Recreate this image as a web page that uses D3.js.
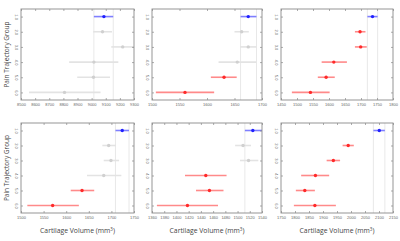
<!DOCTYPE html>
<html>
<head>
<meta charset="utf-8">
<script src="https://cdn.jsdelivr.net/npm/d3@7"></script>
<style>
body { margin: 0; background: #fff; }
svg { font-family: "Open Sans", "DejaVu Sans", sans-serif; }
</style>
</head>
<body>
<svg></svg>
<script>
const W = 400, H = 241;

// groups on the y axis
const groups = [1, 2, 3, 4, 5, 6];

// per-panel x domains and ticks
const domains = [[8500, 9300], [1500, 1700], [1450, 1800], [1500, 1750], [1360, 1540], [1750, 2150]];
const tickVals = [
  [8500, 8600, 8700, 8800, 8900, 9000, 9100, 9200, 9300],
  [1500, 1550, 1600, 1650, 1700],
  [1450, 1500, 1550, 1600, 1650, 1700, 1750, 1800],
  [1500, 1550, 1600, 1650, 1700, 1750],
  [1360, 1380, 1400, 1420, 1440, 1460, 1480, 1500, 1520, 1540],
  [1750, 1800, 1850, 1900, 1950, 2000, 2050, 2100, 2150]
];

// estimates (mean, lower CI, upper CI) for groups 1..6
const means = [
  [9087, 9077, 9220, 9016, 9013, 8808],
  [1675, 1663, 1675, 1655, 1631, 1560],
  [1736, 1697, 1699, 1615, 1591, 1542],
  [1724, 1694, 1699, 1683, 1635, 1570],
  [1525, 1509, 1518, 1448, 1454, 1418],
  [2101, 1990, 1937, 1873, 1835, 1871]
];
const lower = [
  [9016, 9011, 9139, 8841, 8898, 8557],
  [1661, 1650, 1660, 1621, 1607, 1507],
  [1720, 1681, 1681, 1577, 1565, 1484],
  [1709, 1680, 1683, 1646, 1610, 1514],
  [1512, 1496, 1504, 1414, 1432, 1368],
  [2080, 1970, 1913, 1822, 1803, 1796]
];
const upper = [
  [9153, 9144, 9300, 9189, 9130, 9063],
  [1690, 1676, 1690, 1690, 1654, 1613],
  [1752, 1714, 1718, 1656, 1618, 1602],
  [1739, 1710, 1717, 1722, 1662, 1628],
  [1540, 1522, 1534, 1482, 1477, 1468],
  [2121, 2010, 1961, 1922, 1871, 1946]
];
// status: "ref" reference group, "sig" differs, "ns" not different
const status = [
  ["ref", "ns", "ns", "ns", "ns", "ns"],
  ["ref", "ns", "ns", "ns", "sig", "sig"],
  ["ref", "sig", "sig", "sig", "sig", "sig"],
  ["ref", "ns", "ns", "ns", "sig", "sig"],
  ["ref", "ns", "ns", "sig", "sig", "sig"],
  ["ref", "sig", "sig", "sig", "sig", "sig"]
];

const lineCol = { ref: "#7f7fff", sig: "#ff8a8a", ns: "#e3e3e3" };
const dotCol = { ref: "#2020ff", sig: "#ff2a2a", ns: "#d0d0d0" };

const colX = [[21, 134], [152, 262], [281, 393]];
const rowY = [[9, 100], [123, 213]];

const svg = d3.select("svg").attr("width", W).attr("height", H);

domains.forEach((dom, i) => {
  const c = i % 3, r = Math.floor(i / 3);
  const [x0, x1] = colX[c], [y0, y1] = rowY[r];
  const x = d3.scaleLinear().domain(dom).range([x0, x1]);
  const y = d3.scaleLinear().domain([0.5, 6.5]).range([y0, y1]);
  const g = svg.append("g");

  // reference lines at group 1 CI
  [lower[i][0], upper[i][0]].forEach(v => {
    if (v < dom[1])
      g.append("line").attr("x1", x(v)).attr("x2", x(v)).attr("y1", y0).attr("y2", y1)
        .attr("stroke", "#e2e2e2").attr("stroke-width", 0.8);
  });

  groups.forEach((gr, k) => {
    const s = status[i][k];
    g.append("line")
      .attr("x1", x(Math.max(lower[i][k], dom[0]))).attr("x2", x(Math.min(upper[i][k], dom[1])))
      .attr("y1", y(gr)).attr("y2", y(gr))
      .attr("stroke", lineCol[s]).attr("stroke-width", 1.6);
    g.append("circle").attr("cx", x(means[i][k])).attr("cy", y(gr)).attr("r", 1.7)
      .attr("fill", dotCol[s]);
  });

  // frame
  g.append("rect").attr("x", x0).attr("y", y0).attr("width", x1 - x0).attr("height", y1 - y0)
    .attr("fill", "none").attr("stroke", "#8a8a8a").attr("stroke-width", 0.9);

  const axB = g.append("g").attr("transform", `translate(0,${y1})`)
    .call(d3.axisBottom(x).tickValues(tickVals[i]).tickFormat(d3.format("d"))
      .tickSizeInner(-2).tickSizeOuter(0).tickPadding(3));
  const axT = g.append("g").attr("transform", `translate(0,${y0})`)
    .call(d3.axisTop(x).tickValues(tickVals[i]).tickSizeInner(-2).tickSizeOuter(0).tickFormat(""));
  const axL = g.append("g").attr("transform", `translate(${x0},0)`)
    .call(d3.axisLeft(y).tickValues(groups).tickSizeInner(-2).tickSizeOuter(0).tickPadding(3));
  const axR = g.append("g").attr("transform", `translate(${x1},0)`)
    .call(d3.axisRight(y).tickValues(groups).tickSizeInner(-2).tickSizeOuter(0).tickFormat(""));
  [axB, axT, axL, axR].forEach(a => {
    a.select(".domain").remove();
    a.selectAll("line").attr("stroke", "#8a8a8a").attr("stroke-width", 0.7);
    a.selectAll("text").attr("fill", "#666").attr("font-size", 4);
  });
  axL.selectAll("text")
    .attr("transform", "rotate(90,-5,0)")
    .attr("text-anchor", "middle").attr("x", -5).attr("dy", "0.32em");

  if (c === 0) {
    svg.append("text").attr("transform", `translate(9,${(y0 + y1) / 2}) rotate(-90)`)
      .attr("text-anchor", "middle").attr("font-size", 6.5).attr("fill", "#444")
      .text("Pain Trajectory Group");
  }
  if (r === 1) {
    const t = svg.append("text").attr("x", (x0 + x1) / 2).attr("y", 233)
      .attr("text-anchor", "middle").attr("font-size", 6.8).attr("fill", "#444");
    t.append("tspan").text("Cartilage Volume (mm");
    t.append("tspan").attr("font-size", 4.5).attr("dy", -2.5).text("3");
    t.append("tspan").attr("dy", 2.5).text(")");
  }
});
</script>
</body>
</html>
